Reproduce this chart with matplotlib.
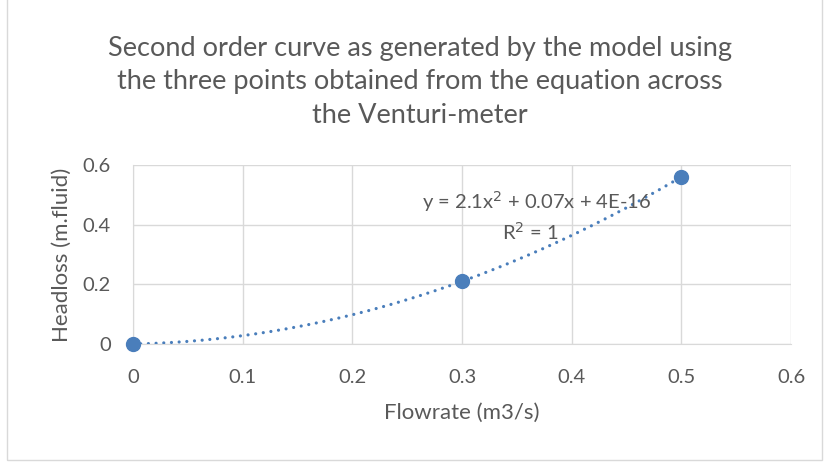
import numpy as np
import matplotlib.pyplot as plt
from matplotlib.patches import Rectangle

# flowrate vs headloss points from the Venturi-meter equation
flowrate = [0.0, 0.3, 0.5]
headloss = [0.0, 0.21, 0.56]

# second order trendline coefficients
coef_a = 2.1
coef_b = 0.07
coef_c = 4e-16

xticks = [0, 0.1, 0.2, 0.3, 0.4, 0.5, 0.6]
yticks = [0, 0.2, 0.4, 0.6]

plt.rcParams['font.family'] = ['Lato', 'DejaVu Sans']
blue = '#4a7ebb'
grid = '#d9d9d9'
txt = '#595959'

fig = plt.figure(figsize=(8.27, 4.62), dpi=100)
fig.patches.append(Rectangle((0.008, 0.004), 0.986, 1.2, transform=fig.transFigure,
                             fill=False, edgecolor='#d9d9d9', linewidth=1.0))

ax = fig.add_axes([0.1608, 0.2554, 0.7957, 0.3875])

xs = np.linspace(0, 0.5, 200)
ax.plot(xs, coef_a * xs**2 + coef_b * xs + coef_c, linestyle=(0, (0.01, 2.4)),
        color=blue, linewidth=2.3, dash_capstyle='round', zorder=3)
ax.plot(flowrate, headloss, 'o', color=blue, markersize=10, zorder=4, clip_on=False)

ax.set_xlim(0, 0.6)
ax.set_ylim(0, 0.6)
ax.set_xticks(xticks)
ax.set_yticks(yticks)
ax.set_xticklabels([f'{v:g}' for v in xticks])
ax.set_yticklabels([f'{v:g}' for v in yticks])
ax.grid(True, color=grid, linewidth=1.0)
ax.set_axisbelow(True)
for s in ['top', 'right']:
    ax.spines[s].set_visible(False)
ax.spines['bottom'].set_color(grid)
ax.spines['left'].set_color(grid)
ax.tick_params(length=0, colors=txt, labelsize=14.5)
ax.tick_params(axis='x', pad=18)
ax.tick_params(axis='y', pad=16)

ax.set_xlabel('Flowrate (m3/s)', color=txt, fontsize=16, labelpad=12)
ax.set_ylabel('Headloss (m.fluid)', color=txt, fontsize=16, labelpad=8)

fig.text(0.508, 0.823, 'Second order curve as generated by the model using\n'
         'the three points obtained from the equation across\nthe Venturi-meter',
         ha='center', va='center', fontsize=19.5, color=txt, linespacing=1.42)

ax.text(0.368, 0.479, 'y = 2.1x$^2$ + 0.07x + 4E-16', ha='center', va='center',
        fontsize=14.5, color=txt)
ax.text(0.362, 0.375, 'R$^2$ = 1', ha='center', va='center', fontsize=14.5, color=txt)

fig.savefig('out.png', dpi=100)
